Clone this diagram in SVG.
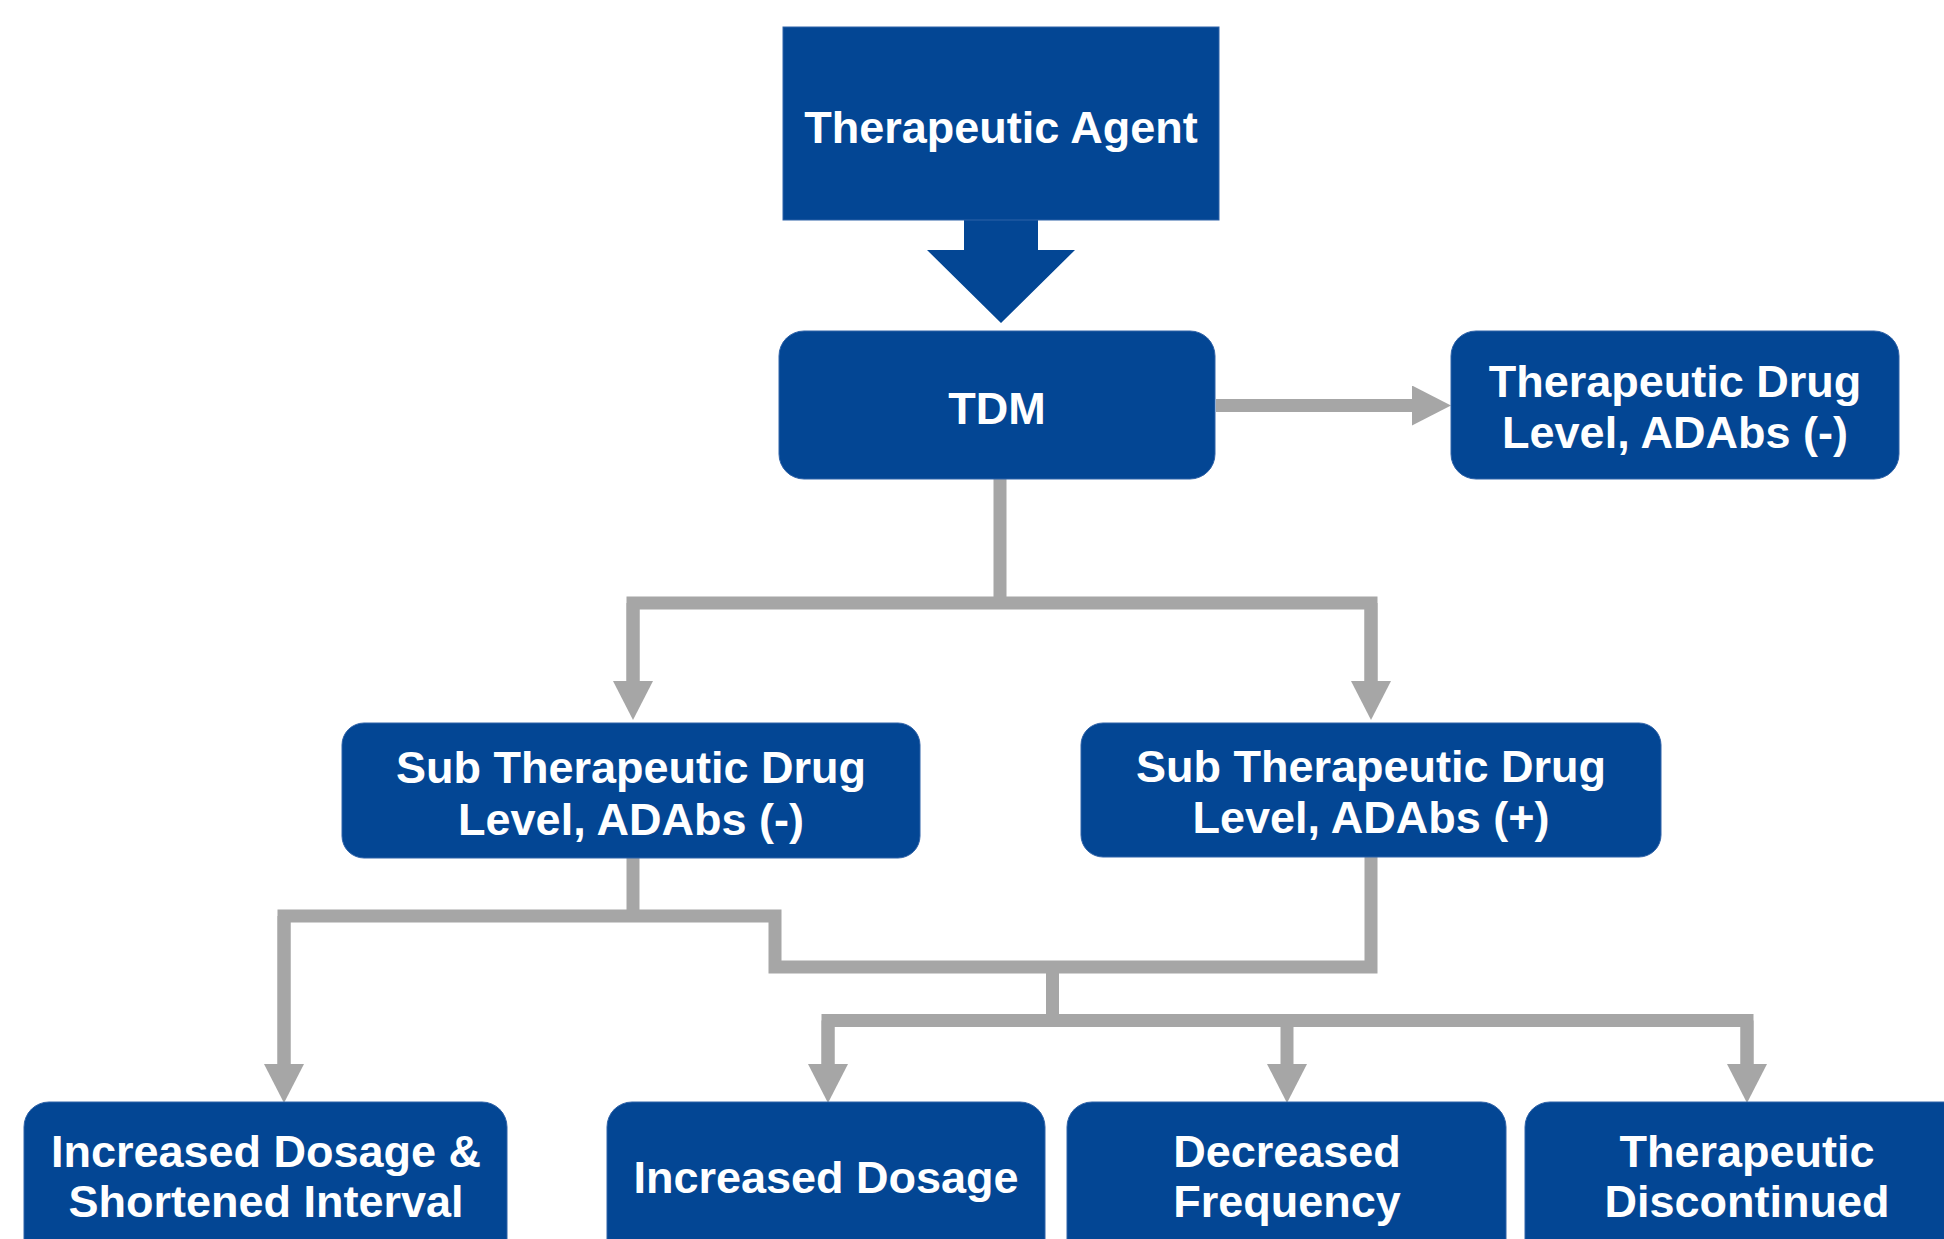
<svg xmlns="http://www.w3.org/2000/svg" width="1944" height="1239" viewBox="0 0 1944 1239">
<style>
.node{fill:#034694;stroke:#2f62a8;stroke-width:1}
.lbl{font-family:"Liberation Sans",Arial,sans-serif;font-weight:bold;font-size:45px;fill:#ffffff;text-anchor:middle}
.conn{fill:none;stroke:#a6a6a6;stroke-width:13;stroke-linecap:butt;stroke-linejoin:miter}
</style>
<defs>
<marker id="ah" markerUnits="userSpaceOnUse" viewBox="0 -20 39 40" markerWidth="39" markerHeight="40" refX="0" refY="0" orient="auto">
<path d="M0,-20 L39,0 L0,20 z" fill="#a6a6a6"/>
</marker>
</defs>
<rect width="1944" height="1239" fill="#ffffff"/>
<g id="connectors">
<polygon points="964,219 1038,219 1038,250 1075,250 1001,323 927,250 964,250" fill="#034694"/>
<path class="conn" d="M1216,405.5 H1412" marker-end="url(#ah)"/>
<path class="conn" d="M1000,479 V603"/>
<path class="conn" d="M633,681 V603 H1371 V681"/>
<path class="conn" d="M633,603 V681" marker-end="url(#ah)"/>
<path class="conn" d="M1371,603 V681" marker-end="url(#ah)"/>
<path class="conn" d="M633,858 V916"/>
<path class="conn" d="M284,1064 V916 H775 V967 H1371 V857"/>
<path class="conn" d="M284,916 V1064" marker-end="url(#ah)"/>
<path class="conn" d="M1052.5,967 V1020.5"/>
<path class="conn" d="M828,1064 V1020.5 H1747 V1064"/>
<path class="conn" d="M828,1020.5 V1064" marker-end="url(#ah)"/>
<path class="conn" d="M1287,1020.5 V1064" marker-end="url(#ah)"/>
<path class="conn" d="M1747,1020.5 V1064" marker-end="url(#ah)"/>
</g>
<g id="agent">
<rect class="node" x="783" y="27" width="436" height="193"/>
<text class="lbl" x="1001" y="143">Therapeutic Agent</text>
</g>
<g id="tdm">
<rect class="node" x="779" y="331" width="436" height="148" rx="25"/>
<text class="lbl" x="997" y="424">TDM</text>
</g>
<g id="therapeutic-level">
<rect class="node" x="1451" y="331" width="448" height="148" rx="25"/>
<text class="lbl" x="1675" y="397">Therapeutic Drug</text>
<text class="lbl" x="1675" y="448">Level, ADAbs (-)</text>
</g>
<g id="sub-neg">
<rect class="node" x="342" y="723" width="578" height="135" rx="22"/>
<text class="lbl" x="631" y="783">Sub Therapeutic Drug</text>
<text class="lbl" x="631" y="835">Level, ADAbs (-)</text>
</g>
<g id="sub-pos">
<rect class="node" x="1081" y="723" width="580" height="134" rx="22"/>
<text class="lbl" x="1371" y="782">Sub Therapeutic Drug</text>
<text class="lbl" x="1371" y="833">Level, ADAbs (+)</text>
</g>
<g id="inc-dosage-interval">
<rect class="node" x="24" y="1102" width="483" height="170" rx="25"/>
<text class="lbl" x="266" y="1167">Increased Dosage &amp;</text>
<text class="lbl" x="266" y="1217">Shortened Interval</text>
</g>
<g id="inc-dosage">
<rect class="node" x="607" y="1102" width="438" height="170" rx="25"/>
<text class="lbl" x="826" y="1193">Increased Dosage</text>
</g>
<g id="dec-frequency">
<rect class="node" x="1067" y="1102" width="439" height="170" rx="25"/>
<text class="lbl" x="1287" y="1167">Decreased</text>
<text class="lbl" x="1287" y="1217">Frequency</text>
</g>
<g id="discontinued">
<rect class="node" x="1525" y="1102" width="444" height="170" rx="25"/>
<text class="lbl" x="1747" y="1167">Therapeutic</text>
<text class="lbl" x="1747" y="1217">Discontinued</text>
</g>
</svg>
